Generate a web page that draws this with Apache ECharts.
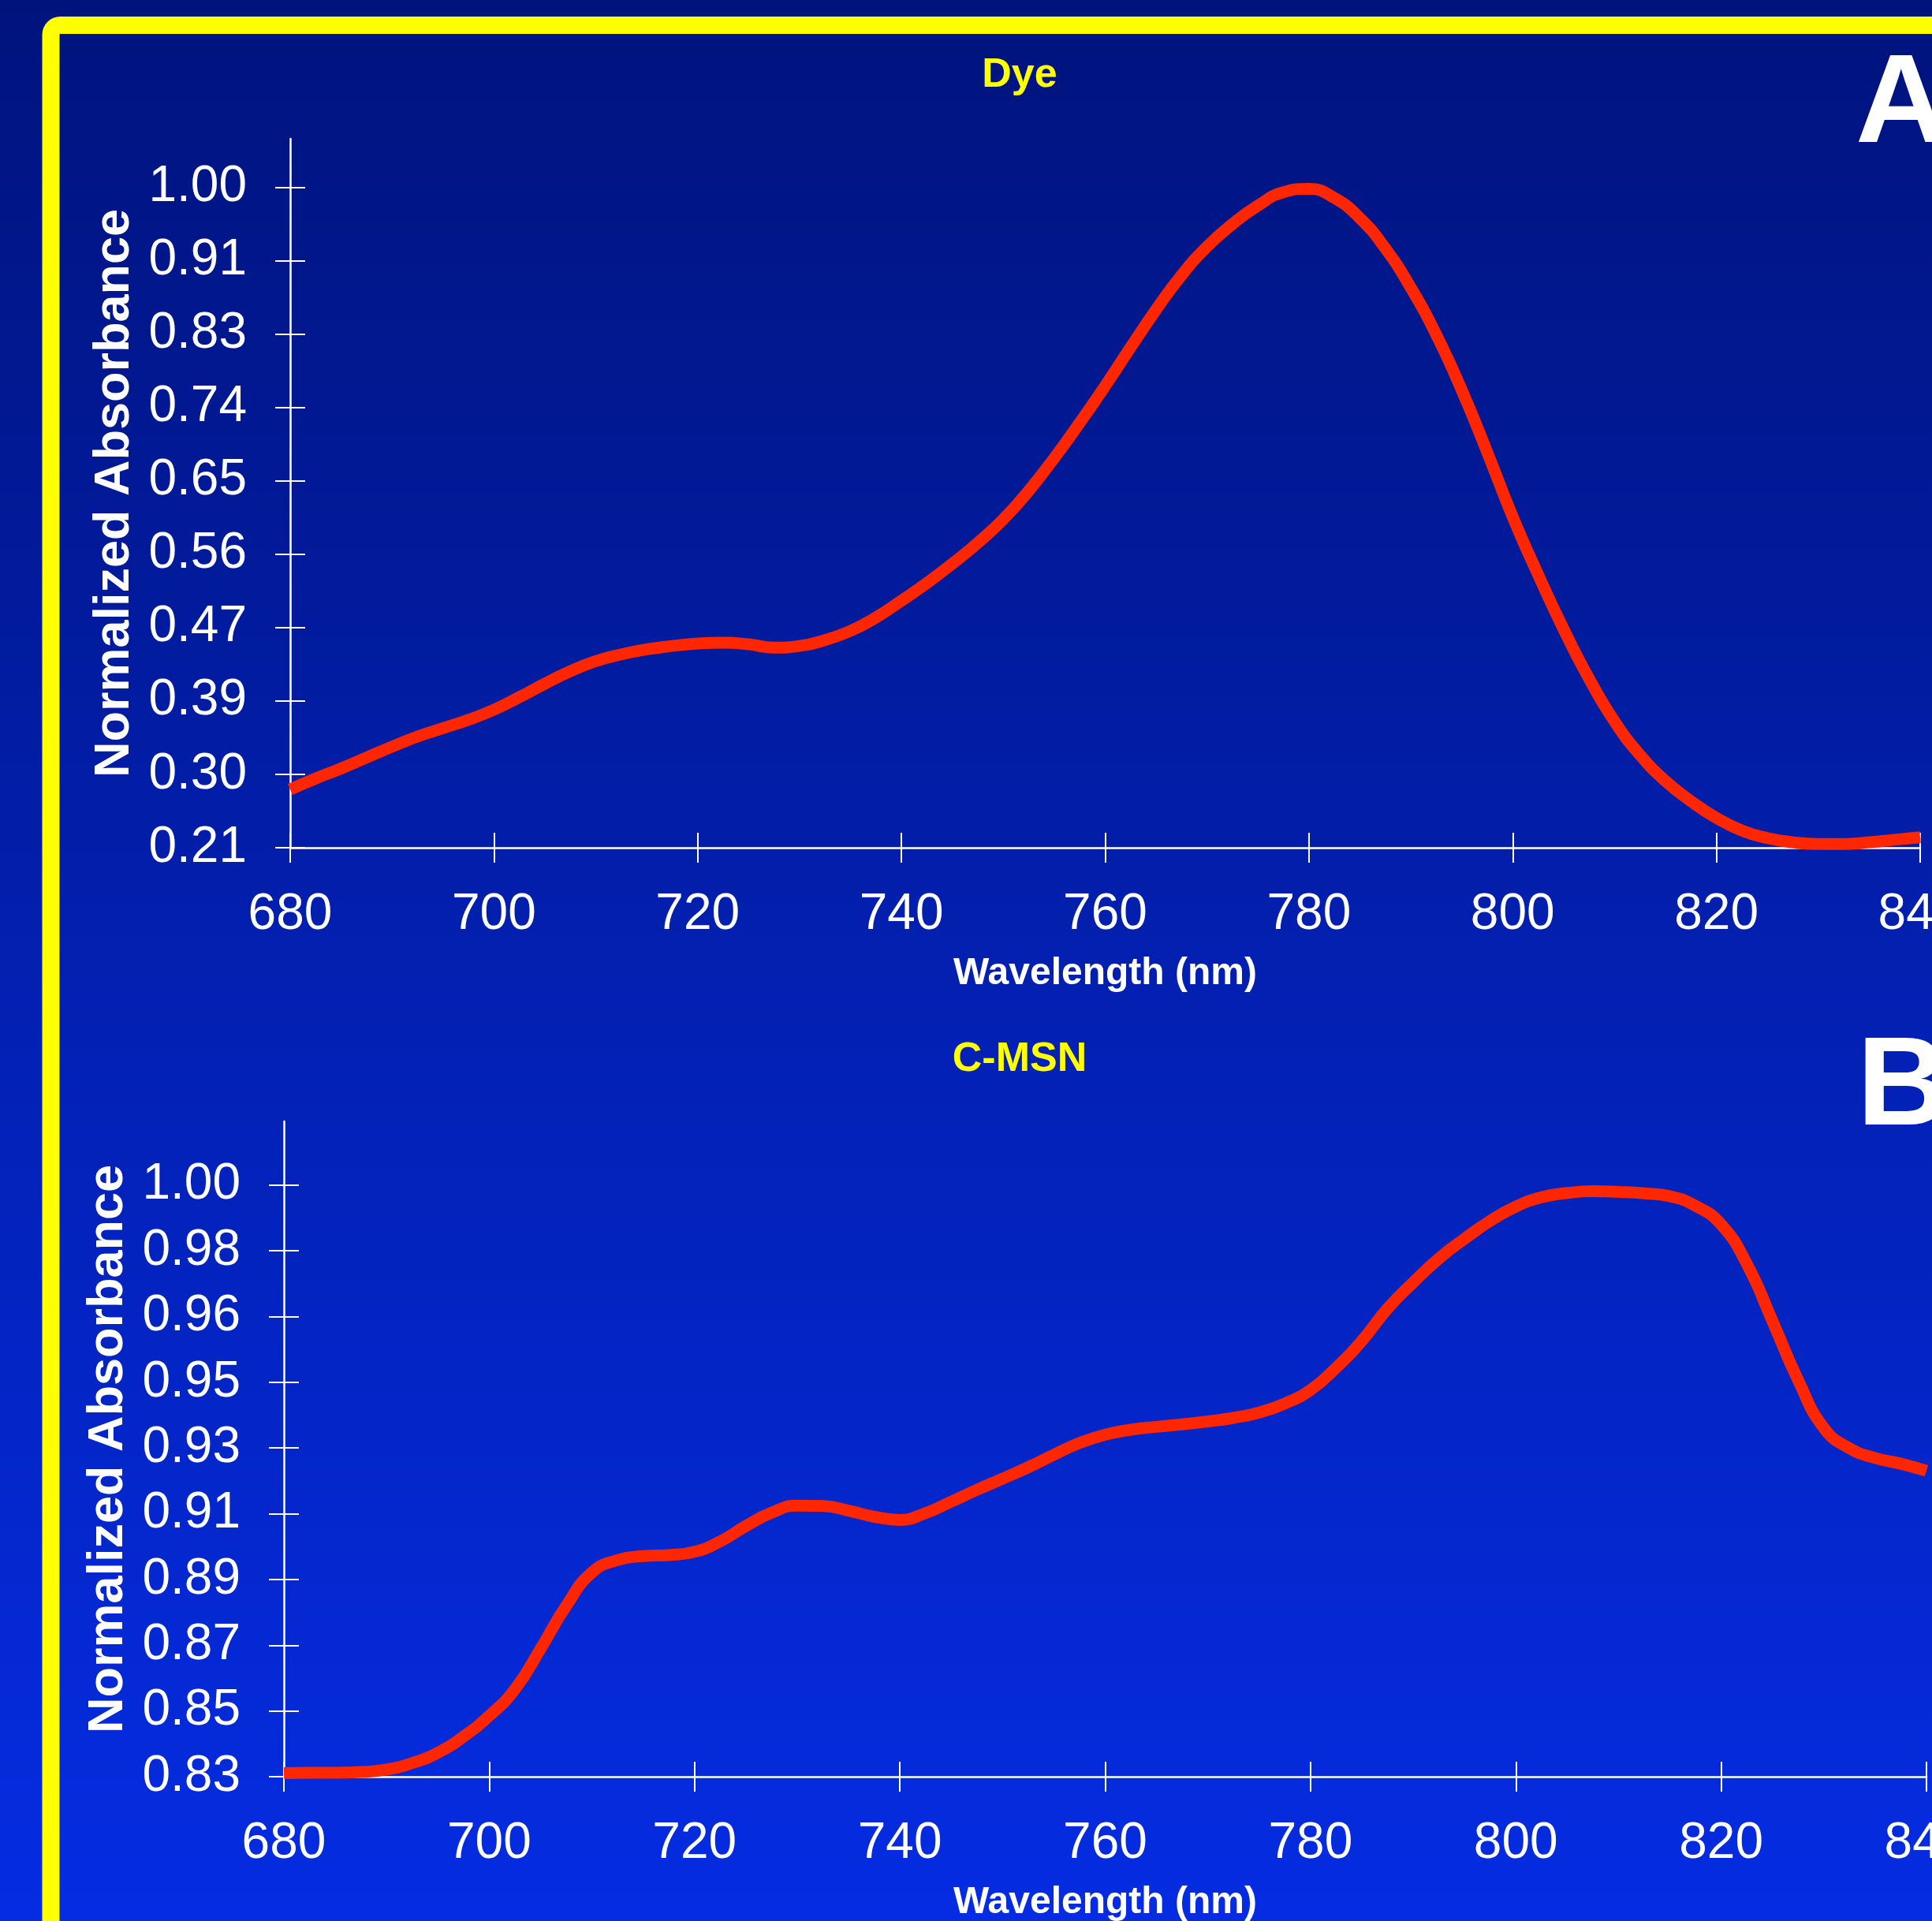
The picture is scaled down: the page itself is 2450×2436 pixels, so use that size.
<!DOCTYPE html>
<html>
<head>
<meta charset="utf-8">
<title>Normalized absorbance spectra</title>
<style>
  html, body { margin: 0; padding: 0; background: #0220b0; overflow: hidden; }
  #chart { width: 2450px; height: 2436px; }
</style>
<script src="https://cdn.jsdelivr.net/npm/echarts@6/dist/echarts.min.js"></script>
</head>
<body>
<div id="chart"></div>
<script>
// Panel A: free dye, normalized absorbance every 2.5 nm from 680 to 840 nm
const dyeWavelength = [680, 682.5, 685, 687.5, 690, 692.5, 695, 697.5, 700, 702.5, 705, 707.5, 710, 712.5, 715, 717.5,
  720, 722.5, 725, 727.5, 730, 732.5, 735, 737.5, 740, 742.5, 745, 747.5, 750, 752.5, 755, 757.5,
  760, 762.5, 765, 767.5, 770, 772.5, 775, 777.5, 780, 782.5, 785, 787.5, 790, 792.5, 795, 797.5,
  800, 802.5, 805, 807.5, 810, 812.5, 815, 817.5, 820, 822.5, 825, 827.5, 830, 832.5, 835, 837.5, 840];
const dyeAbsorbance = [0.282, 0.295, 0.307, 0.320, 0.333, 0.345, 0.355, 0.365, 0.377, 0.392, 0.408, 0.423, 0.435, 0.443, 0.449, 0.453,
  0.456, 0.457, 0.455, 0.451, 0.453, 0.460, 0.471, 0.487, 0.507, 0.528, 0.551, 0.576, 0.604, 0.638, 0.677, 0.719,
  0.763, 0.809, 0.854, 0.895, 0.929, 0.956, 0.978, 0.994, 0.998, 0.987, 0.963, 0.927, 0.880, 0.824, 0.758, 0.684,
  0.607, 0.538, 0.473, 0.414, 0.363, 0.323, 0.292, 0.268, 0.248, 0.233, 0.224, 0.219, 0.217, 0.217, 0.219, 0.222, 0.225];

// Panel B: C-MSN, normalized absorbance every 2.5 nm from 680 to 840 nm
const msnWavelength = dyeWavelength.slice();
const msnAbsorbance = [0.8358, 0.8359, 0.8359, 0.8361, 0.8368, 0.8386, 0.8415, 0.8460, 0.8518, 0.8592, 0.8705, 0.8825, 0.8918, 0.8953, 0.8964, 0.8967,
  0.8976, 0.9005, 0.9048, 0.9085, 0.9105, 0.9104, 0.9091, 0.9074, 0.9065, 0.9084, 0.9116, 0.9149, 0.9180, 0.9212, 0.9247, 0.9280,
  0.9303, 0.9317, 0.9325, 0.9332, 0.9340, 0.9350, 0.9365, 0.9390, 0.9428, 0.9490, 0.9565, 0.9655, 0.9728, 0.9795, 0.9850, 0.9900,
  0.9940, 0.9966, 0.9978, 0.9983, 0.9981, 0.9977, 0.9969, 0.9942, 0.9890, 0.9780, 0.9620, 0.9455, 0.9322, 0.9265, 0.9238, 0.9222, 0.9202];

// Tick labels of the two absorbance axes (ten evenly spaced ticks each)
const dyeTickLabels = ['0.21', '0.30', '0.39', '0.47', '0.56', '0.65', '0.74', '0.83', '0.91', '1.00'];
const msnTickLabels = ['0.83', '0.85', '0.87', '0.89', '0.91', '0.93', '0.95', '0.96', '0.98', '1.00'];

// Absorbance axis extents: first tick, last tick, and the top of the axis line
const dyeAxis = { first: 0.2125, last: 1.0, top: 1.0576 };
const msnAxis = { first: 0.8348, last: 1.0, top: 1.0178 };

const FONT = '"Liberation Sans", Arial, sans-serif';
const WHITE = '#ffffff';

function tickValues(ax, count) {
  const step = (ax.last - ax.first) / (count - 1);
  const out = [];
  for (let i = 0; i < count; i++) out.push(ax.first + i * step);
  return out;
}
function labelFor(ax, labels) {
  const step = (ax.last - ax.first) / (labels.length - 1);
  return v => labels[Math.round((v - ax.first) / step)] || '';
}
function pairs(xs, ys) { return xs.map((x, i) => [x, ys[i]]); }

function xAxes(gridIndex) {
  const common = {
    type: 'value', gridIndex, min: 680, max: 840, interval: 20, position: 'bottom', offset: 0,
    splitLine: { show: false }
  };
  return [
    Object.assign({}, common, {
      axisLine: { show: true, lineStyle: { color: WHITE, width: 2.5 } },
      axisTick: { show: true, inside: false, length: 19, lineStyle: { color: WHITE, width: 2 } },
      axisLabel: { show: true, color: WHITE, fontSize: 64, fontFamily: FONT, margin: 53 },
      name: 'Wavelength (nm)', nameLocation: 'middle', nameGap: 136,
      nameTextStyle: { color: WHITE, fontSize: 48, fontWeight: 'bold', fontFamily: FONT }
    }),
    Object.assign({}, common, {
      axisLine: { show: false },
      axisTick: { show: true, inside: true, length: 19, lineStyle: { color: WHITE, width: 2 } },
      axisLabel: { show: false }
    })
  ];
}
function yAxes(gridIndex, ax, labels) {
  const ticks = tickValues(ax, labels.length);
  const common = {
    type: 'value', gridIndex, min: ax.first, max: ax.top, position: 'left', offset: 0,
    splitLine: { show: false }
  };
  return [
    Object.assign({}, common, {
      axisLine: { show: true, lineStyle: { color: WHITE, width: 2.5 } },
      axisTick: { show: true, inside: false, length: 19, customValues: ticks, lineStyle: { color: WHITE, width: 2 } },
      axisLabel: { show: true, customValues: ticks, color: WHITE, fontSize: 64, fontFamily: FONT, margin: 55,
        padding: [14, 0, 0, 0], formatter: labelFor(ax, labels) },
      name: 'Normalized Absorbance', nameLocation: 'middle', nameGap: 181,
      nameTextStyle: { color: WHITE, fontSize: 63, fontWeight: 'bold', fontFamily: FONT }
    }),
    Object.assign({}, common, {
      axisLine: { show: false },
      axisTick: { show: true, inside: true, length: 19, customValues: ticks, lineStyle: { color: WHITE, width: 2 } },
      axisLabel: { show: false }
    })
  ];
}

const curveStyle = { color: '#ff2600', width: 15, cap: 'butt', join: 'round' };

const chart = echarts.init(document.getElementById('chart'), null, { renderer: 'canvas' });
chart.setOption({
  animation: false,
  backgroundColor: new echarts.graphic.LinearGradient(0, 0, 0, 1, [
    { offset: 0, color: '#00137d' },
    { offset: 1, color: '#052ce2' }
  ]),
  grid: [
    { left: 368, top: 176, width: 2067, height: 899, containLabel: false, outerBoundsMode: 'none' },
    { left: 360, top: 1422, width: 2083, height: 831, containLabel: false, outerBoundsMode: 'none' }
  ],
  xAxis: xAxes(0).concat(xAxes(1)),
  yAxis: yAxes(0, dyeAxis, dyeTickLabels).concat(yAxes(1, msnAxis, msnTickLabels)),
  graphic: [
    {
      type: 'rect', z: -1, silent: true,
      shape: { x: 64.5, y: 32, width: 3000, height: 3000, r: 12 },
      style: { fill: 'none', stroke: '#ffff00', lineWidth: 22 }
    },
    {
      type: 'text', x: 1293, y: 96, silent: true,
      style: { text: 'Dye', fill: '#ffff00', fontSize: 52, fontWeight: 'bold', fontFamily: FONT,
        align: 'center', verticalAlign: 'middle' }
    },
    {
      type: 'text', x: 1293, y: 1344, silent: true,
      style: { text: 'C-MSN', fill: '#ffff00', fontSize: 52, fontWeight: 'bold', fontFamily: FONT,
        align: 'center', verticalAlign: 'middle' }
    },
    {
      type: 'text', x: 2353, y: 136, silent: true,
      style: { text: 'A', fill: WHITE, fontSize: 160, fontWeight: 'bold', fontFamily: FONT,
        align: 'left', verticalAlign: 'middle' }
    },
    {
      type: 'text', x: 2355, y: 1382, silent: true,
      style: { text: 'B', fill: WHITE, fontSize: 160, fontWeight: 'bold', fontFamily: FONT,
        align: 'left', verticalAlign: 'middle' }
    }
  ],
  series: [
    {
      name: 'Dye', type: 'line', xAxisIndex: 0, yAxisIndex: 0,
      data: pairs(dyeWavelength, dyeAbsorbance),
      smooth: 0.5, showSymbol: false, clip: false, lineStyle: curveStyle
    },
    {
      name: 'C-MSN', type: 'line', xAxisIndex: 2, yAxisIndex: 2,
      data: pairs(msnWavelength, msnAbsorbance),
      smooth: 0.5, showSymbol: false, clip: false, lineStyle: curveStyle
    }
  ]
});
</script>
</body>
</html>
